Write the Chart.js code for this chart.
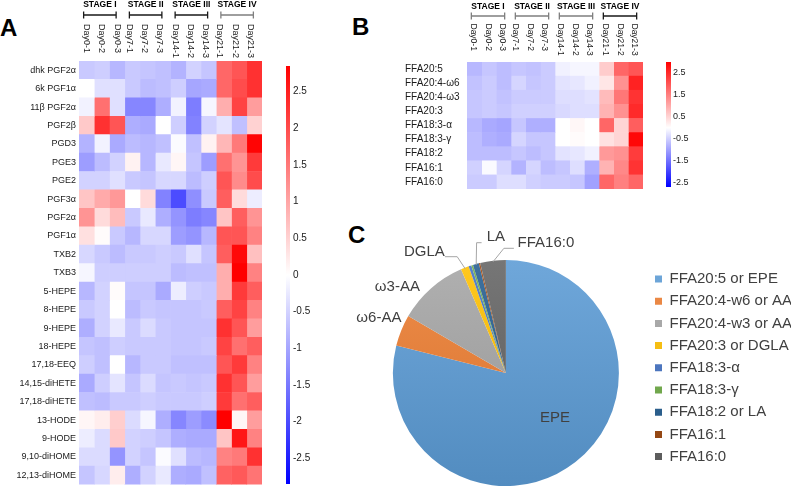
<!DOCTYPE html>
<html><head><meta charset="utf-8">
<script src="https://cdn.jsdelivr.net/npm/chart.js@4.4.1/dist/chart.umd.min.js"></script>
<style>
html,body{margin:0;padding:0;background:#fff;width:791px;height:493px;overflow:hidden;position:relative;font-family:"Liberation Sans",Arial,sans-serif;}
canvas{position:absolute;}
.lt{position:absolute;font-weight:bold;font-size:24px;line-height:24px;color:#000;}
</style></head><body>
<div class="lt" style="left:0px;top:16px">A</div>
<div class="lt" style="left:352px;top:15px">B</div>
<div class="lt" style="left:348px;top:223px">C</div>
<canvas id="cA" style="left:0;top:0" width="300" height="493"></canvas>
<canvas id="cAbar" style="left:270px;top:0" width="60" height="493"></canvas>
<canvas id="cB" style="left:400px;top:0" width="260" height="200"></canvas>
<canvas id="cBbar" style="left:650px;top:0" width="60" height="200"></canvas>
<canvas id="cC" style="left:330px;top:200px" width="461" height="293"></canvas>
<script>
const FF = '"Liberation Sans", Arial, sans-serif';

// ---------- data ----------
const days = ['Day0-1','Day0-2','Day0-3','Day7-1','Day7-2','Day7-3','Day14-1','Day14-2','Day14-3','Day21-1','Day21-2','Day21-3'];
const stages = ['STAGE I','STAGE II','STAGE III','STAGE IV'];

const compoundsA = ['dhk PGF2α','6k PGF1α','11β PGF2α','PGF2β','PGD3','PGE3','PGE2','PGF3α','PGF2α','PGF1α','TXB2','TXB3','5-HEPE','8-HEPE','9-HEPE','18-HEPE','17,18-EEQ','14,15-diHETE','17,18-diHETE','13-HODE','9-HODE','9,10-diHOME','12,13-diHOME'];
const valuesA = [
  [-0.6,-0.55,-0.8,-0.6,-0.65,-0.7,-0.85,-0.5,-0.65,1.7,1.9,2.3],
  [0.0,-0.35,-0.35,-0.6,-0.75,-0.7,-0.55,-1.0,-0.95,1.7,2.0,2.3],
  [-0.15,1.6,-0.35,-1.35,-1.35,-0.9,-0.15,-1.45,-0.1,0.9,2.1,1.1],
  [0.6,2.3,1.9,-0.9,-0.95,0.0,-0.55,-1.4,-0.5,-0.3,-0.7,0.5],
  [-0.85,-0.15,-0.95,-0.75,-0.8,-0.7,-0.05,-0.7,0.15,0.8,1.5,2.8],
  [-1.1,-0.75,-0.5,0.15,-0.8,-0.25,0.1,-0.65,-1.1,1.6,1.2,2.2],
  [-0.5,-0.5,-0.35,-0.6,-0.65,-0.45,-0.45,-0.75,-0.55,1.9,1.3,2.0],
  [0.65,0.95,1.15,0.0,0.4,-1.4,-2.0,-1.25,-0.6,1.8,0.4,-0.2],
  [1.2,0.4,0.75,-0.6,-0.25,-0.9,-1.2,-1.45,-1.35,0.65,1.8,1.2],
  [0.35,0.05,-0.6,-0.8,-0.45,-0.45,-1.1,-1.2,-0.8,1.9,1.9,1.4],
  [-0.45,-0.6,-0.75,-0.6,-0.6,-0.55,-0.6,-0.35,-0.65,1.8,2.75,0.7],
  [-0.1,-0.55,-0.55,-0.55,-0.55,-0.55,-0.75,-0.7,-0.7,0.9,2.85,1.4],
  [-0.8,-0.5,0.05,-0.65,-0.65,-0.95,-0.2,-0.55,-0.6,0.9,2.2,1.8],
  [-0.6,-0.5,0.0,-0.75,-0.6,-0.65,-0.65,-0.65,-0.6,1.8,2.1,1.4],
  [-0.9,-0.5,-0.25,-0.6,-0.4,-0.6,-0.65,-0.65,-0.65,2.3,1.9,1.1],
  [-0.65,-0.7,-0.55,-0.6,-0.6,-0.6,-0.65,-0.65,-0.6,2.1,1.6,1.8],
  [-0.55,-0.7,0.0,-0.8,-0.6,-0.6,-0.7,-0.7,-0.7,1.9,2.2,1.4],
  [-0.95,-0.55,-0.3,-0.65,-0.4,-0.65,-0.6,-0.65,-0.6,2.3,1.9,1.1],
  [-0.7,-0.75,-0.6,-0.6,-0.55,-0.6,-0.6,-0.6,-0.55,2.2,1.6,1.8],
  [0.1,0.2,0.55,-0.4,-0.1,-0.9,-1.35,-1.1,-1.3,2.85,0.1,1.1],
  [-0.2,-0.4,0.6,-0.5,-0.55,-0.65,-0.9,-0.95,-0.95,0.65,2.6,1.4],
  [-0.4,-0.4,-1.2,-0.5,-0.65,-0.05,-0.35,-0.75,-0.8,1.4,1.5,2.3],
  [-0.65,-0.45,0.2,-0.9,-0.5,-0.25,-0.9,-0.95,-0.7,1.75,1.85,1.55]
];
const rangeA = [-2.85, 2.85];
const colorbarTicksA = [-2.5,-2,-1.5,-1,-0.5,0,0.5,1,1.5,2,2.5];

const acidsB = ['FFA20:5','FFA20:4-ω6','FFA20:4-ω3','FFA20:3','FFA18:3-α','FFA18:3-γ','FFA18:2','FFA16:1','FFA16:0'];
const valuesB = [
  [-0.75,-0.6,-0.7,-0.6,-0.65,-0.55,-0.15,-0.1,-0.1,0.6,1.8,2.0],
  [-0.65,-0.55,-0.7,-0.45,-0.6,-0.55,-0.3,-0.25,-0.15,0.3,1.3,2.6],
  [-0.6,-0.55,-0.65,-0.55,-0.55,-0.55,-0.35,-0.35,-0.3,0.8,1.6,2.4],
  [-0.6,-0.55,-0.6,-0.5,-0.5,-0.5,-0.4,-0.35,-0.35,0.9,1.3,2.5],
  [-0.75,-0.9,-0.95,-0.6,-0.85,-0.85,0.0,0.1,0.0,1.8,0.5,1.9],
  [-0.7,-0.85,-0.9,-0.45,-0.6,-0.6,0.0,0.05,0.0,0.35,0.5,2.9],
  [-0.7,-0.7,-0.7,-0.6,-0.7,-0.6,-0.3,-0.25,-0.15,1.2,1.3,2.3],
  [-0.5,-0.05,-0.45,-0.8,-0.45,-0.7,-0.6,-0.35,-0.85,0.9,1.4,2.4],
  [-0.55,-0.55,-0.35,-0.35,-0.5,-0.55,-0.55,-0.6,-1.0,1.8,1.5,1.8]
];
const rangeB = [-2.7, 3.0];
const colorbarTicksB = [-2.5,-2,-1.5,-1,-0.5,0,0.5,1,1.5,2,2.5];

const pieLabels = ['FFA20:5 or EPE','FFA20:4-w6 or AA','FFA20:4-w3 or AA','FFA20:3 or DGLA','FFA18:3-α','FFA18:3-γ','FFA18:2 or LA','FFA16:1','FFA16:0'];
const pieShort = ['EPE','ω6-AA','ω3-AA','DGLA','','','LA','','FFA16:0'];
const pieValues = [78.9, 4.5, 10.1, 1.15, 0.4, 0.25, 0.85, 0.2, 3.65];

// ---------- helpers ----------
function heatColor(v, lo, hi){
  let r,g,b;
  if (v >= 0){ const t = Math.min(v/hi,1); r = 255; g = b = Math.round(255*(1-t)); }
  else { const t = Math.min(v/lo,1); r = g = Math.round(255*(1-t)); b = 255; }
  return 'rgb('+r+','+g+','+b+')';
}

const headerPlugin = {
  id: 'heatHeader',
  afterDraw(chart, args, o){
    const ctx = chart.ctx, xs = chart.scales.x;
    ctx.save();
    ctx.fillStyle = '#1a1a1a';
    ctx.font = o.daySize + 'px ' + FF;
    ctx.textAlign = 'left'; ctx.textBaseline = 'middle';
    days.forEach((d,j)=>{
      const x = xs.getPixelForValue(j+0.5) + o.dayShift[Math.floor(j/3)];
      ctx.save(); ctx.translate(x, o.dayTop); ctx.rotate(Math.PI/2); ctx.fillText(d,0,0); ctx.restore();
    });
    stages.forEach((s,k)=>{
      const x0 = xs.getPixelForValue(3*k+0.5) + o.brL, x1 = xs.getPixelForValue(3*k+2.5) + o.brR;
      ctx.strokeStyle = o.brColors[k]; ctx.lineWidth = 1.3;
      ctx.beginPath();
      ctx.moveTo(x0, o.brY); ctx.lineTo(x1, o.brY);
      ctx.moveTo(x0, o.brY-3.5); ctx.lineTo(x0, o.brY+3.5);
      ctx.moveTo(x1, o.brY-3.5); ctx.lineTo(x1, o.brY+3.5);
      ctx.stroke();
      ctx.fillStyle = '#000';
      ctx.font = 'bold ' + o.stageSize + 'px ' + FF;
      ctx.textAlign = 'center'; ctx.textBaseline = 'middle';
      ctx.fillText(s, (x0+x1)/2, o.stageY);
    });
    ctx.restore();
  }
};

function makeHeatmap(id, rows, values, range, cfg){
  const datasets = days.map((d,j)=>({
    label: d,
    data: rows.map(()=>1),
    backgroundColor: rows.map((_,i)=>heatColor(values[i][j], range[0], range[1])),
    borderWidth: 0, barPercentage: 1, categoryPercentage: 1, stack: 's'
  }));
  return new Chart(document.getElementById(id), {
    type: 'bar',
    data: {labels: rows, datasets},
    options: {
      indexAxis: 'y', responsive: false, animation: false, events: [],
      layout: {padding: cfg.padding},
      plugins: {legend: {display:false}, tooltip: {enabled:false}, heatHeader: cfg.header},
      scales: {
        x: {type:'linear', stacked:true, min:0, max:days.length, display:false},
        y: {stacked:true, grid:{display:false, drawTicks:false}, border:{display:false},
            ticks:{font:{family:FF, size:cfg.labelSize}, color:'#1a1a1a', padding:cfg.labelPad, crossAlign:cfg.crossAlign, autoSkip:false},
            afterFit:(s)=>{ s.width = cfg.axisWidth; }}
      }
    },
    plugins: [headerPlugin]
  });
}

function makeColorbar(id, range, ticks, cfg){
  const lo = range[0], hi = range[1];
  return new Chart(document.getElementById(id), {
    type: 'bar',
    data: {labels: ['scale'], datasets: [{
      data: [[lo, hi]],
      backgroundColor: (c)=>{
        const a = c.chart.chartArea; if (!a) return '#fff';
        const g = c.chart.ctx.createLinearGradient(0, a.bottom, 0, a.top);
        g.addColorStop(0, 'rgb(0,0,255)');
        g.addColorStop((0-lo)/(hi-lo), 'rgb(255,255,255)');
        g.addColorStop(1, 'rgb(255,0,0)');
        return g;
      },
      borderWidth: 0, barPercentage: 1, categoryPercentage: 1
    }]},
    options: {
      responsive: false, animation: false, events: [],
      layout: {padding: cfg.padding},
      plugins: {legend:{display:false}, tooltip:{enabled:false}},
      scales: {
        x: {display:false},
        y: {position:'right', min:lo, max:hi, grid:{display:false, drawTicks:false}, border:{display:false},
            ticks:{font:{family:FF, size:cfg.tickSize}, color:'#1a1a1a', padding:cfg.tickPad,
                   callback:(v)=>String(Math.round(v*10)/10)},
            afterBuildTicks:(s)=>{ s.ticks = ticks.map(v=>({value:v})); },
            afterFit:(s)=>{ s.width = cfg.axisWidth; }}
      }
    }
  });
}

// ---------- panel A ----------
makeHeatmap('cA', compoundsA, valuesA, rangeA, {
  padding: {left:0, top:61, right:38, bottom:1},
  axisWidth: 79, labelSize: 9, labelPad: 3, crossAlign: 'near',
  header: {daySize:9, dayTop:24, dayShift:[0,-3,-3,-4], brL:-3, brR:-1, brY:15, stageY:4.8, stageSize:8.5,
           brColors:['#1a1a1a','#1a1a1a','#1a1a1a','#7f7f7f']}
});
makeColorbar('cAbar', rangeA, colorbarTicksA, {
  padding: {left:16, top:66, right:10, bottom:2}, axisWidth: 30, tickSize: 10, tickPad: 3
});

// ---------- panel B ----------
makeHeatmap('cB', acidsB, valuesB, rangeB, {
  padding: {left:5, top:62, right:17, bottom:11},
  axisWidth: 62, labelSize: 10, labelPad: 0, crossAlign: 'far',
  header: {daySize:8.5, dayTop:23.5, dayShift:[-1,-3,-2,-1], brL:-3, brR:1, brY:16, stageY:6.5, stageSize:8.5,
           brColors:['#7f7f7f','#7f7f7f','#7f7f7f','#1a1a1a']}
});
makeColorbar('cBbar', rangeB, colorbarTicksB, {
  padding: {left:16, top:62, right:9, bottom:13}, axisWidth: 30, tickSize: 9, tickPad: 2
});

// ---------- panel C ----------
const pieBase = ['#5B9BD5','#ED7D31','#A5A5A5','#FFC000','#4472C4','#70AD47','#255E91','#9E480E','#636363'];
function shade(hex, f){
  const n = parseInt(hex.slice(1),16); let r=(n>>16)&255, g=(n>>8)&255, b=n&255;
  if (f > 0){ r += (255-r)*f; g += (255-g)*f; b += (255-b)*f; } else { r *= 1+f; g *= 1+f; b *= 1+f; }
  return 'rgb('+Math.round(r)+','+Math.round(g)+','+Math.round(b)+')';
}
const pieLabelPlugin = {
  id: 'pieLabels',
  afterDatasetsDraw(chart, args, o){
    const meta = chart.getDatasetMeta(0), ctx = chart.ctx;
    ctx.save();
    ctx.font = o.size + 'px ' + FF;
    o.items.forEach(it=>{
      const arc = meta.data[it.index]; if (!arc) return;
      const p = arc.getProps(['x','y','startAngle','endAngle','outerRadius'], true);
      const mid = (p.startAngle + p.endAngle)/2;
      if (it.line){
        ctx.strokeStyle = '#a6a6a6'; ctx.lineWidth = 1;
        ctx.beginPath();
        ctx.moveTo(p.x + it.line[0][0], p.y + it.line[0][1]);
        ctx.lineTo(p.x + it.line[1][0], p.y + it.line[1][1]);
        ctx.lineTo(p.x + Math.cos(mid)*(p.outerRadius-1), p.y + Math.sin(mid)*(p.outerRadius-1));
        ctx.stroke();
      }
      ctx.fillStyle = '#404040'; ctx.textAlign = 'center'; ctx.textBaseline = 'middle';
      ctx.fillText(pieShort[it.index], p.x + it.pos[0], p.y + it.pos[1]);
    });
    ctx.restore();
  }
};
new Chart(document.getElementById('cC'), {
  type: 'pie',
  data: {labels: pieLabels, datasets: [{
    data: pieValues,
    backgroundColor: (c)=>{
      const base = pieBase[c.dataIndex % pieBase.length];
      const a = c.chart.chartArea; if (!a) return base;
      const g = c.chart.ctx.createLinearGradient(0, a.top, 0, a.bottom);
      g.addColorStop(0, shade(base, 0.12)); g.addColorStop(1, shade(base, -0.1));
      return g;
    },
    borderWidth: 0, radius: 113
  }]},
  options: {
    responsive: false, animation: false, events: [],
    layout: {padding: {left:34, top:60, right:0, bottom:7}},
    plugins: {
      tooltip: {enabled:false},
      legend: {position:'right', align:'start', maxWidth:143.2,
        title: {display:true, text:'', font:{size:1}, padding:{top:3.1, bottom:0}},
        labels: {boxWidth:7, boxHeight:7, padding:7.2, font:{family:FF, size:15}, color:'#404040'}},
      pieLabels: {size:15, items:[
        {index:0, pos:[49,45]},
        {index:1, pos:[-127,-54.7]},
        {index:2, pos:[-108.5,-85.7]},
        {index:3, pos:[-81.5,-120.7], line:[[-61,-116.3],[-48.7,-116.3]]},
        {index:6, pos:[-10,-136.3], line:[[-24.3,-130.3],[-29.3,-130.3]]},
        {index:8, pos:[40,-129.7], line:[[8,-124.7],[-2,-124.7]]}
      ]}
    }
  },
  plugins: [pieLabelPlugin]
});
</script>
</body></html>
